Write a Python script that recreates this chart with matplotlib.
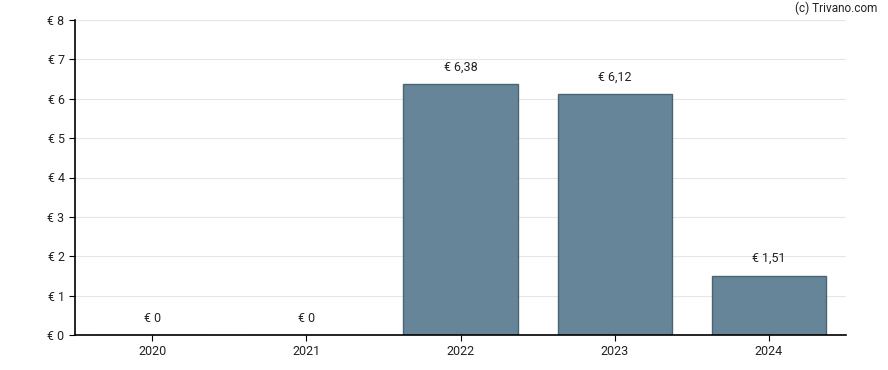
import matplotlib
matplotlib.use('Agg')
import matplotlib.pyplot as plt

# dữ liệu
years = ['2020', '2021', '2022', '2023', '2024']
values = [0, 0, 6.38, 6.12, 1.51]
labels = ['€ 0', '€ 0', '€ 6,38', '€ 6,12', '€ 1,51']
yticks = [0, 1, 2, 3, 4, 5, 6, 7, 8]

plt.rcParams['font.family'] = ['Roboto', 'DejaVu Sans']

fig = plt.figure(figsize=(8.88, 3.7), dpi=100)
ax = fig.add_axes([75 / 888, 35 / 370, (846 - 75) / 888, 315 / 370])

x = range(len(years))
ax.bar(x, values, width=0.74, color='#5f7f93', alpha=0.95,
       edgecolor='#445f70', linewidth=1, zorder=2)

for i, v in enumerate(values):
    ax.annotate(labels[i], (i, v), xytext=(0, 7.5), textcoords='offset points',
                ha='center', va='bottom', fontsize=9, color='#222222')

ax.set_xlim(-0.5, 4.5)
ax.set_ylim(0, 8)
ax.set_xticks(list(x))
ax.set_xticklabels(years)
ax.set_yticks(yticks)
ax.set_yticklabels(['€ %d' % t for t in yticks])
ax.tick_params(labelsize=9, colors='#222222', length=4)
ax.tick_params(axis='both', color='black')

ax.grid(axis='y', color='#e6e6e6', linewidth=0.8, zorder=0)
ax.set_axisbelow(True)
for s in ['top', 'right']:
    ax.spines[s].set_visible(False)
for s in ['left', 'bottom']:
    ax.spines[s].set_color('black')
    ax.spines[s].set_linewidth(1.2)

fig.text(877 / 888, 1 - 8 / 370, '(c) Trivano.com', ha='right', va='center',
         fontsize=8.5, color='#222222')

fig.savefig('out.png', dpi=100)
